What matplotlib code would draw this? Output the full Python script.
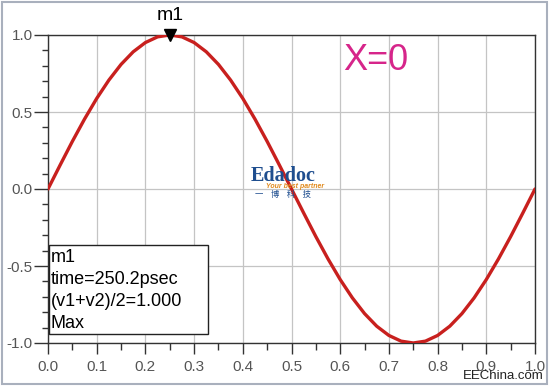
import matplotlib
matplotlib.use("Agg")
import matplotlib.pyplot as plt
from matplotlib.ticker import MultipleLocator, FormatStrFormatter
from matplotlib.patches import Rectangle

# data
time = [i / 40 for i in range(41)]
wave = [0.0, 0.156, 0.309, 0.454, 0.588, 0.707, 0.809, 0.891, 0.951, 0.988,
        1.0, 0.988, 0.951, 0.891, 0.809, 0.707, 0.588, 0.454, 0.309, 0.156,
        0.0, -0.156, -0.309, -0.454, -0.588, -0.707, -0.809, -0.891, -0.951, -0.988,
        -1.0, -0.988, -0.951, -0.891, -0.809, -0.707, -0.588, -0.454, -0.309, -0.156,
        0.0]
marker_x = 0.25
marker_y = 1.0
marker_name = "m1"
readout = ["m1", "time=250.2psec", "(v1+v2)/2=1.000", "Max"]

plt.rcParams['font.family'] = ['Liberation Sans', 'Noto Sans CJK SC', 'DejaVu Sans']

fig = plt.figure(figsize=(5.5, 3.88), dpi=100)
ax = fig.add_axes([48/550, 1-343/388, (535-48)/550, (343-35)/388])

ax.plot(time, wave, color='#c8201e', lw=2.4, zorder=3, solid_capstyle='round')
ax.set_xlim(0, 1)
ax.set_ylim(-1, 1)
ax.xaxis.set_major_locator(MultipleLocator(0.1))
ax.xaxis.set_minor_locator(MultipleLocator(0.05))
ax.yaxis.set_major_locator(MultipleLocator(0.5))
ax.yaxis.set_minor_locator(MultipleLocator(0.1))
ax.xaxis.set_major_formatter(FormatStrFormatter('%.1f'))
ax.yaxis.set_major_formatter(FormatStrFormatter('%.1f'))
ax.grid(True, which='major', color='#c4c4c4', lw=0.9)
ax.tick_params(axis='y', which='major', direction='out', length=10, width=1.0, color='#333333',
               labelcolor='#555555', labelsize=11, pad=1)
ax.tick_params(axis='y', which='minor', direction='out', length=4.5, width=1.0, color='#333333')
ax.tick_params(axis='x', which='major', direction='out', length=8, width=1.0, color='#333333',
               labelcolor='#555555', labelsize=11, pad=4)
ax.tick_params(axis='x', which='minor', direction='out', length=5, width=1.0, color='#333333')
for s in ax.spines.values():
    s.set_color('#333333')
    s.set_linewidth(1.0)

# marker
ax.plot([marker_x], [marker_y], marker='v', color='black', markersize=8,
        clip_on=False, zorder=5, transform=ax.transData)
ax.annotate(marker_name, xy=(marker_x, marker_y), xytext=(0, 8), textcoords='offset points',
            ha='center', va='bottom', fontsize=14, color='black', annotation_clip=False)

# readout box
fig.patches.append(Rectangle((49/550, 1-334/388), (208-49)/550, (334-245)/388,
                             transform=fig.transFigure, fill=True, facecolor='white',
                             edgecolor='#222222', lw=1.0, zorder=10))
for i, line in enumerate(readout):
    fig.text(51/550, 1-(257+22*i)/388, line, fontsize=13, color='black',
             ha='left', va='center', zorder=11)

# big X=0 label
ax.text(343/550, 1-60/388, "X=0", transform=fig.transFigure, fontsize=26,
        color='#d6258a', ha='left', va='center')

# watermark logo
fig.text(251/550, 1-176/388, "Edadoc", fontsize=14.5, color='#1f4e8f', fontweight='bold',
         ha='left', va='center', family=['Liberation Serif'])
fig.text(266/550, 1-186/388, "Your best partner", fontsize=5, color='#e08a1e',
         ha='left', va='center', style='italic', fontweight='bold')
fig.text(255/550, 1-194/388, "一    博    科    技", fontsize=6, color='#1f4e8f',
         ha='left', va='center', family=['Noto Sans CJK SC'])

fig.text(544/550, 1-376/388, "EEChina.com", fontsize=9.5, color='#222222',
         ha='right', va='center')

# outer frame
fig.patches.append(Rectangle((2/550, 4/388), 545/550, 382/388, transform=fig.transFigure,
                             fill=False, edgecolor='#a9b0bd', lw=1.5))

fig.savefig("out.png", dpi=100)
